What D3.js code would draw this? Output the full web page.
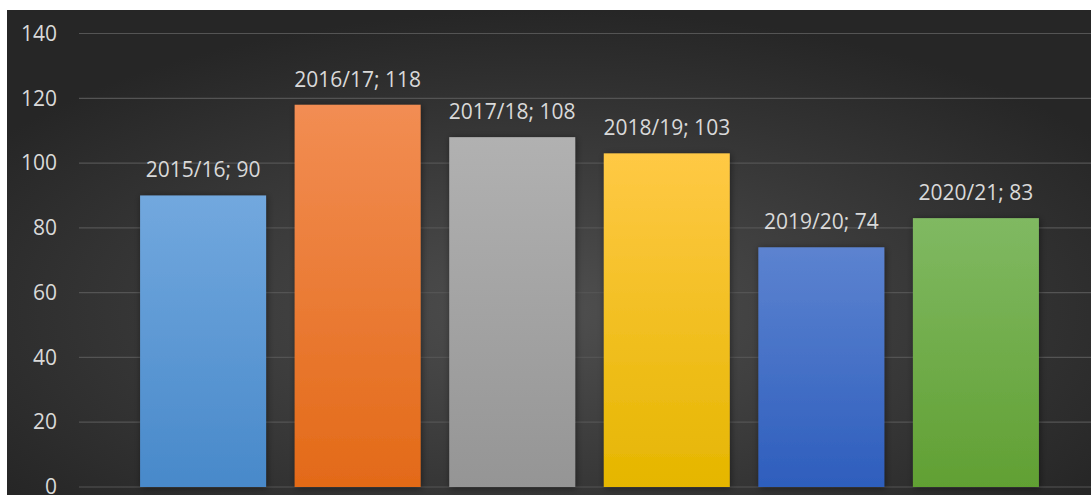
<!DOCTYPE html>
<html>
<head>
<meta charset="utf-8">
<script src="https://cdn.jsdelivr.net/npm/d3@7"></script>
<style>
  html, body { margin: 0; padding: 0; background: #ffffff; overflow: hidden; }
  text { font-family: "Open Sans", "Liberation Sans", sans-serif; }
</style>
</head>
<body>
<div id="chart"></div>
<script>
// Data
var seasons = ["2015/16", "2016/17", "2017/18", "2018/19", "2019/20", "2020/21"];
var counts = [90, 118, 108, 103, 74, 83];
var yTicks = [0, 20, 40, 60, 80, 100, 120, 140];
// top / bottom colour of each bar's gradient
var topColors = ["#72a8de", "#f28d53", "#b1b1b1", "#ffc945", "#5c83d0", "#80b962"];
var bottomColors = ["#4889ca", "#e36a18", "#959595", "#e5b600", "#2e5ebd", "#61a033"];

var W = 1091, H = 495;

var svg = d3.select("#chart")
  .append("svg")
    .attr("width", W)
    .attr("height", H);

var defs = svg.append("defs");

// background: lighter in the middle, darker at the edges
var bg = defs.append("radialGradient")
    .attr("id", "bg")
    .attr("cx", "0.5").attr("cy", "0.62").attr("r", "0.62");
bg.append("stop").attr("offset", "0%").attr("stop-color", "#4f4f4f");
bg.append("stop").attr("offset", "100%").attr("stop-color", "#262626");

seasons.forEach(function(s, i) {
  var g = defs.append("linearGradient")
      .attr("id", "bar" + i)
      .attr("x1", 0).attr("y1", 0).attr("x2", 0).attr("y2", 1);
  g.append("stop").attr("offset", "0%").attr("stop-color", topColors[i]);
  g.append("stop").attr("offset", "100%").attr("stop-color", bottomColors[i]);
});

var shadow = defs.append("filter")
    .attr("id", "shadow")
    .attr("x", "-20%").attr("y", "-20%").attr("width", "140%").attr("height", "140%");
shadow.append("feDropShadow")
    .attr("dx", 1).attr("dy", 1)
    .attr("stdDeviation", 3.5)
    .attr("flood-color", "#000")
    .attr("flood-opacity", 0.45);

// chart area
svg.append("rect")
    .attr("x", 7).attr("y", 10)
    .attr("width", W - 7).attr("height", H - 10)
    .attr("fill", "url(#bg)");

// scales
var x = d3.scaleBand()
    .domain(seasons)
    .range([111.5, 1067.5])
    .padding(0.185);

var y = d3.scaleLinear()
    .domain([0, 140])
    .range([487, 33.5]);

// gridlines
svg.append("g")
    .attr("class", "grid")
  .selectAll("line")
  .data(yTicks)
  .enter().append("line")
    .attr("x1", 79).attr("x2", W)
    .attr("y1", function(d) { return y(d); })
    .attr("y2", function(d) { return y(d); })
    .attr("stroke", "#545454")
    .attr("stroke-width", 1.2);

// y axis labels
var yAxis = d3.axisLeft(y).tickValues(yTicks).tickSize(0).tickPadding(0);
var yg = svg.append("g")
    .attr("class", "y-axis")
    .attr("transform", "translate(57,0)")
    .call(yAxis);
yg.select(".domain").remove();
yg.selectAll("text")
    .attr("fill", "#d9d9d9")
    .style("font-size", "21px")
    .style("font-family", "'Open Sans', sans-serif");

// bars
svg.append("g")
  .selectAll("rect")
  .data(counts)
  .enter().append("rect")
    .attr("x", function(d, i) { return x(seasons[i]); })
    .attr("y", function(d) { return y(d); })
    .attr("width", x.bandwidth())
    .attr("height", function(d) { return y(0) - y(d); })
    .attr("fill", function(d, i) { return "url(#bar" + i + ")"; })
    .attr("filter", "url(#shadow)");

// data labels
svg.append("g")
  .selectAll("text")
  .data(counts)
  .enter().append("text")
    .attr("x", function(d, i) { return x(seasons[i]) + x.bandwidth() / 2; })
    .attr("y", function(d) { return y(d) - 18; })
    .attr("text-anchor", "middle")
    .attr("fill", "#d9d9d9")
    .style("font-size", "21px")
    .text(function(d, i) { return seasons[i] + "; " + d; });
</script>
</body>
</html>
